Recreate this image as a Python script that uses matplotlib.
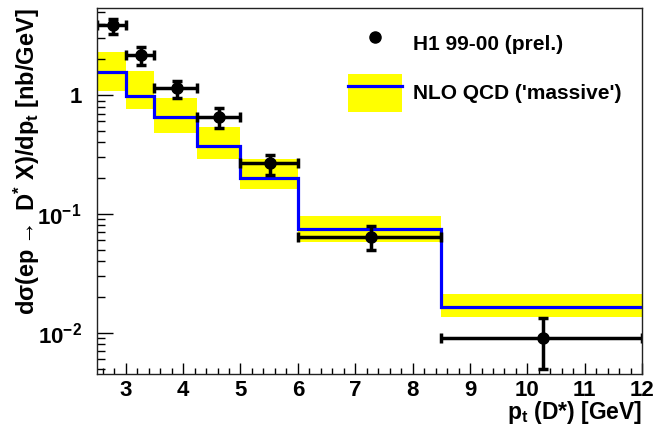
import math
import matplotlib
matplotlib.use('Agg')
import matplotlib.pyplot as plt
from matplotlib.lines import Line2D
from matplotlib.patches import Patch
from matplotlib.ticker import FixedLocator, FuncFormatter, LogLocator, MultipleLocator, NullFormatter

plt.rcParams['font.family'] = ['Liberation Sans', 'DejaVu Sans']
plt.rcParams['font.weight'] = 'bold'
plt.rcParams['axes.labelweight'] = 'bold'
plt.rcParams['mathtext.fontset'] = 'custom'
plt.rcParams['mathtext.rm'] = 'Liberation Sans:bold'
plt.rcParams['mathtext.it'] = 'Liberation Sans:bold'
plt.rcParams['mathtext.bf'] = 'Liberation Sans:bold'
plt.rcParams['mathtext.sf'] = 'Liberation Sans:bold'

# bin edges in pt(D*) [GeV]
edges = [2.5, 3.0, 3.5, 4.25, 5.0, 6.0, 8.5, 12.0]

# H1 99-00 data
pt_data = [2.77, 3.26, 3.90, 4.63, 5.52, 7.27, 10.28]
xsec = [3.88, 2.17, 1.14, 0.657, 0.266, 0.0645, 0.0091]
xsec_up = [4.40, 2.55, 1.31, 0.773, 0.313, 0.0792, 0.0133]
xsec_lo = [3.25, 1.79, 0.94, 0.531, 0.213, 0.0499, 0.0050]

# NLO QCD ('massive') prediction and band
nlo = [1.56, 0.99, 0.653, 0.373, 0.201, 0.0744, 0.0166]
nlo_hi = [2.31, 1.59, 0.938, 0.542, 0.290, 0.0963, 0.0212]
nlo_lo = [1.09, 0.763, 0.482, 0.288, 0.163, 0.0584, 0.0137]

fig = plt.figure(figsize=(6.6, 4.26), dpi=100)
ax = fig.add_axes([0.147, 0.122, 0.826, 0.859])

# theory band + central line
ax.stairs(nlo_hi, edges, baseline=nlo_lo, fill=True, color='#ffff00', lw=0)
ax.stairs(nlo, edges, baseline=None, color='#0000ff', lw=2.3)

# data points
xerr_lo = [x - edges[i] for i, x in enumerate(pt_data)]
xerr_hi = [edges[i + 1] - x for i, x in enumerate(pt_data)]
yerr_lo = [v - l for v, l in zip(xsec, xsec_lo)]
yerr_hi = [u - v for v, u in zip(xsec, xsec_up)]
ax.errorbar(pt_data, xsec, xerr=[xerr_lo, xerr_hi], yerr=[yerr_lo, yerr_hi],
            fmt='o', color='black', ms=8, elinewidth=2.5, capsize=3.5, capthick=2.5)

ax.set_yscale('log')
ax.set_xlim(2.5, 12)
ax.set_ylim(0.0045, 5.4)

ax.xaxis.set_major_locator(MultipleLocator(1))
ax.xaxis.set_minor_locator(MultipleLocator(0.2))
ax.yaxis.set_major_locator(FixedLocator([0.01, 0.1, 1]))
ax.yaxis.set_minor_locator(LogLocator(base=10, subs=range(2, 10)))
ax.yaxis.set_minor_formatter(NullFormatter())


def ylab(v, pos):
    if v == 1:
        return '1'
    return r'$10^{%d}$' % int(round(math.log10(v)))


ax.yaxis.set_major_formatter(FuncFormatter(ylab))

ax.tick_params(axis='x', which='major', direction='in', length=8, width=1, labelsize=16, pad=4,
               top=False)
ax.tick_params(axis='x', which='minor', direction='in', length=4, width=1, top=False)
ax.tick_params(axis='y', which='major', direction='in', length=11.5, width=1, labelsize=16, pad=11,
               right=False)
ax.tick_params(axis='y', which='minor', direction='in', length=6, width=1, right=False)
for s in ax.spines.values():
    s.set_linewidth(1)
    s.set_color('#222222')

ax.set_xlabel(r'p$_{t}$ (D*) [GeV]', fontsize=16.5, loc='right', labelpad=-1)
ax.set_ylabel(r'd$\sigma$(ep$\rightarrow$ D$^{*}$ X)/dp$_{t}$ [nb/GeV]', fontsize=17, loc='top',
              labelpad=-3)

h_data = Line2D([], [], marker='o', color='black', ls='none', ms=8)
h_nlo = (Patch(facecolor='#ffff00', edgecolor='none'), Line2D([], [], color='#0000ff', lw=2.3))
ax.legend([h_data, h_nlo], ['H1 99-00 (prel.)', "NLO QCD ('massive')"],
          loc='upper left', bbox_to_anchor=(0.46, 0.955), frameon=False, fontsize=15,
          handlelength=2.6, handleheight=2.5, handletextpad=0.55, labelspacing=0.48,
          borderpad=0, borderaxespad=0)

fig.savefig('out.png', dpi=100)
